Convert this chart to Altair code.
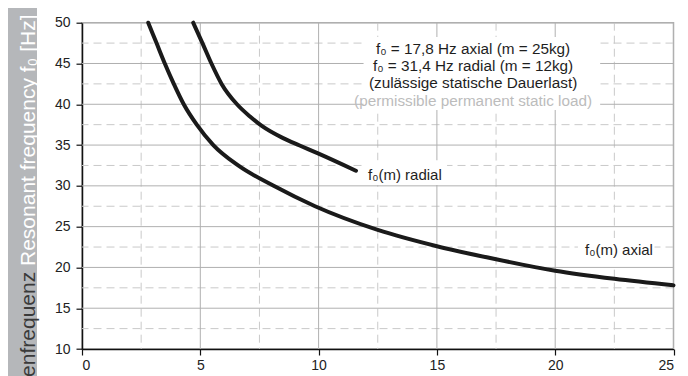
import altair as alt
import pandas as pd

# ---- data ----
axial_mass = [2.8, 3.15, 3.5, 3.88, 4.3, 4.85, 5.55, 6.6, 8.1, 9.85, 12.5, 15, 17.5, 20, 22.5, 25]
axial_freq = [50, 47.5, 45, 42.5, 40, 37.5, 35, 32.5, 30, 27.5, 24.6, 22.6, 21.0, 19.6, 18.6, 17.8]
radial_mass = [4.7, 5.09, 5.47, 5.9, 6.55, 7.1, 7.6, 8.5, 9.2, 10.0, 11.58]
radial_freq = [50, 47.5, 45, 42.5, 40, 38.5, 37.35, 35.85, 34.95, 33.95, 31.85]

x_values = [0, 2.5, 5, 7.5, 10, 12.5, 15, 17.5, 20, 22.5, 25]
y_values = [10, 12.5, 15, 17.5, 20, 22.5, 25, 27.5, 30, 32.5, 35, 37.5, 40, 42.5, 45, 47.5, 50]

note_lines = [
    "f₀ = 17,8 Hz axial (m = 25kg)",
    "f₀ = 31,4 Hz radial (m = 12kg)",
    "(zulässige statische Dauerlast)",
    "(permissible permanent static load)",
]
curve_labels = ["f₀(m) radial", "f₀(m) axial"]
title_de = "Eigenfrequenz"
title_en = "Resonant frequency f₀ [Hz]"

# ---- annotation placement (data units) ----
note_x = 16.53
note_y = [46.77, 44.66, 42.56, 40.46]
note_col = ["#1e1e1e", "#1e1e1e", "#1e1e1e", "#bcbcbc"]
label_x = [12.09, 21.26]
label_y = [31.3, 22.1]
box = pd.DataFrame({
    "bx": [11.9, 11.96, 20.96], "bx2": [21.9, 15.43, 24.2],
    "by": [48.25, 33.15, 23.6], "by2": [39.3, 30.1, 20.2],
})

curves = pd.DataFrame({
    "m": axial_mass + radial_mass,
    "f": axial_freq + radial_freq,
    "series": ["axial"] * len(axial_mass) + ["radial"] * len(radial_mass),
})
notes = pd.DataFrame({"t": note_lines, "x": [note_x] * 4, "y": note_y, "c": note_col})
labels = pd.DataFrame({"t": curve_labels, "x": label_x, "y": label_y})
one = pd.DataFrame({"a": [0]})

xg = pd.DataFrame({"v": x_values})
xg["major"] = [v % 5 == 0 for v in x_values]
yg = pd.DataFrame({"v": y_values})
yg["major"] = [v % 5 == 0 for v in y_values]

xscale = alt.Scale(domain=[0, 25], nice=False, zero=False)
yscale = alt.Scale(domain=[10, 50], nice=False, zero=False)

xaxis = alt.Axis(values=[0, 5, 10, 15, 20, 25], title=None, grid=False, labelPadding=3)
yaxis = alt.Axis(values=[10, 15, 20, 25, 30, 35, 40, 45, 50], title=None, grid=False, labelPadding=6)

x_minor = alt.Chart(xg).transform_filter("!datum.major").mark_rule(
    color="#c9c9c9", strokeDash=[8, 5], strokeWidth=1
).encode(x=alt.X("v:Q", scale=xscale, axis=xaxis))
x_major = alt.Chart(xg).transform_filter("datum.major && datum.v > 0").mark_rule(
    color="#b0b0b0", strokeWidth=1
).encode(x=alt.X("v:Q", title=None))
y_minor = alt.Chart(yg).transform_filter("!datum.major").mark_rule(
    color="#c9c9c9", strokeDash=[8, 5], strokeWidth=1
).encode(y=alt.Y("v:Q", scale=yscale, axis=yaxis))
y_major = alt.Chart(yg).transform_filter("datum.major && datum.v > 10").mark_rule(
    color="#b0b0b0", strokeWidth=1
).encode(y=alt.Y("v:Q", title=None))

boxes = alt.Chart(box).mark_rect(color="white").encode(
    x=alt.X("bx:Q", title=None),
    x2="bx2:Q",
    y=alt.Y("by:Q", title=None),
    y2="by2:Q",
)

lines = alt.Chart(curves).mark_line(
    interpolate="monotone", strokeWidth=4, color="#1a1a1a", strokeCap="round"
).encode(
    x=alt.X("m:Q", title=None),
    y=alt.Y("f:Q", title=None),
    detail="series:N",
)

note_text = alt.Chart(notes).mark_text(
    font="Liberation Sans", fontSize=15.3, align="center", baseline="middle"
).encode(
    x=alt.X("x:Q", title=None), y=alt.Y("y:Q", title=None),
    text="t:N", color=alt.Color("c:N", scale=None),
)

label_text = alt.Chart(labels).mark_text(
    font="Liberation Sans", fontSize=15, align="left", baseline="middle", color="#1e1e1e"
).encode(
    x=alt.X("x:Q", title=None), y=alt.Y("y:Q", title=None), text="t:N",
)

band = alt.Chart(one).mark_rect(color="#b5b7ba").encode(
    x=alt.value(-74), x2=alt.value(-45), y=alt.value(-15), y2=alt.value(360),
)
title_a = alt.Chart(one).mark_text(
    text=title_en, font="Liberation Sans", fontSize=21, angle=270,
    align="left", baseline="alphabetic", color="#ffffff",
).encode(x=alt.value(-47), y=alt.value(243.3))
title_b = alt.Chart(one).mark_text(
    text=title_de, font="Liberation Sans", fontSize=21, angle=270,
    align="right", baseline="alphabetic", color="#3a3a3a",
).encode(x=alt.value(-47), y=alt.value(249.1))

chart = alt.layer(
    x_minor, y_minor, x_major, y_major, boxes, lines, note_text, label_text, band, title_a, title_b
).properties(
    width=591.5, height=326.3,
    autosize=alt.AutoSizeParams(type="none"),
    padding={"left": 74, "top": 14.7, "right": 6.5, "bottom": 27},
).configure_view(
    stroke="#aaaaaa", strokeWidth=1.5,
).configure_axis(
    labelFont="Liberation Sans", labelFontSize=14, labelColor="#222222",
    domainColor="#111111", domainWidth=1.5, tickColor="#111111", tickWidth=1.2, tickSize=6,
)

chart.save("out.html", embed_options={"renderer": "svg", "actions": False})
